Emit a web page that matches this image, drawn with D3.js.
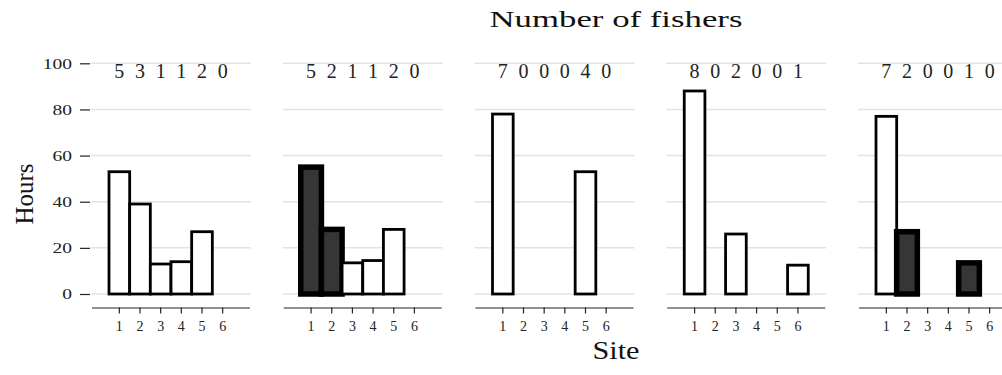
<!DOCTYPE html>
<html><head><meta charset="utf-8">
<script src="https://cdn.jsdelivr.net/npm/d3@7"></script>
<style>body{margin:0;background:#fff}svg{display:block}</style>
</head><body><svg id="c" width="1002" height="375"></svg>
<script>
const sites = ["1","2","3","4","5","6"];
const yTicks = [0,20,40,60,80,100];
const fishers1 = [5,3,1,1,2,0];
const fishers2 = [5,2,1,1,2,0];
const fishers3 = [7,0,0,0,4,0];
const fishers4 = [8,0,2,0,0,1];
const fishers5 = [7,2,0,0,1,0];
const hours1 = [53,39,13,14,27,0];
const hours2 = [55,28,13.5,14.5,28,0];
const hours3 = [78,0,0,0,53,0];
const hours4 = [88,0,26,0,0,12.5];
const hours5 = [77,27,0,0,13.5,0];
const dark1 = [], dark2 = ["1","2"], dark3 = [], dark4 = [], dark5 = ["2","5"];

const panels = [
  {f:fishers1,h:hours1,d:dark1},{f:fishers2,h:hours2,d:dark2},{f:fishers3,h:hours3,d:dark3},
  {f:fishers4,h:hours4,d:dark4},{f:fishers5,h:hours5,d:dark5}];

const svg = d3.select("#c");
const font = "'Liberation Serif','Times New Roman',serif";
const y = d3.scaleLinear().domain([0,100]).range([294,63.3]);
const panelW = 160, step = 191.75, x0 = 91;

// y axis
const ya = svg.append("g").attr("transform","translate(90,0)")
  .call(d3.axisLeft(y).tickValues(yTicks).tickSize(10).tickPadding(8));
ya.select(".domain").remove();
ya.selectAll("line").attr("stroke","#222").attr("stroke-width",1.2);
ya.selectAll("text").attr("font-family",font).attr("font-size",15).attr("fill","#222")
  .each(function(){const w=this.getComputedTextLength();d3.select(this).attr("textLength",w*1.3).attr("lengthAdjust","spacingAndGlyphs");});

panels.forEach((p,i)=>{
  const px = x0 + i*step;
  const g = svg.append("g");
  const x = d3.scaleBand().domain(sites).range([px+18, px+142]).padding(0);
  // grid
  g.selectAll("line.grid").data(yTicks).join("line")
    .attr("x1",px).attr("x2",px+panelW).attr("y1",d=>y(d)).attr("y2",d=>y(d))
    .attr("stroke","#e3e3e3").attr("stroke-width",1.5);
  // bars
  const rows = sites.map((s,k)=>({s, v:p.h[k], dark:p.d.includes(s)})).filter(r=>r.v>0);
  g.selectAll("rect").data(rows).join("rect")
    .attr("x",r=>x(r.s)).attr("width",x.bandwidth())
    .attr("y",r=>y(r.v)).attr("height",r=>y(0)-y(r.v))
    .attr("fill",r=>r.dark?"#363636":"#fff")
    .attr("stroke","#000").attr("stroke-width",r=>r.dark?5.5:2.8);
  // fisher digits
  g.selectAll("text.n").data(sites).join("text")
    .attr("x",s=>x(s)+x.bandwidth()/2).attr("y",78).attr("text-anchor","middle")
    .attr("font-family",font).attr("font-size",20).attr("fill","#222")
    .text((s,k)=>p.f[k]);
  // x axis
  const xa = g.append("g").attr("transform","translate(0,307.5)")
    .call(d3.axisBottom(x).tickSize(6).tickPadding(8).tickSizeOuter(0));
  xa.select(".domain").attr("d",`M${px+1},0.5H${px+panelW-1}`).attr("stroke","#222").attr("stroke-width",1.2);
  xa.selectAll("line").attr("stroke","#222").attr("stroke-width",1.2);
  xa.selectAll("text").attr("font-family",font).attr("font-size",14).attr("fill","#222");
});

svg.append("text").attr("x",616).attr("y",27).attr("text-anchor","middle")
  .attr("font-family",font).attr("font-size",23).attr("fill","#111")
  .attr("textLength",253).attr("lengthAdjust","spacingAndGlyphs").text("Number of fishers");
svg.append("text").attr("x",616).attr("y",359).attr("text-anchor","middle")
  .attr("font-family",font).attr("font-size",25).attr("fill","#111")
  .attr("textLength",47).attr("lengthAdjust","spacingAndGlyphs").text("Site");
svg.append("text").attr("transform","translate(33,194) rotate(-90)").attr("text-anchor","middle")
  .attr("font-family",font).attr("font-size",25).attr("fill","#111").text("Hours");
</script></body></html>
